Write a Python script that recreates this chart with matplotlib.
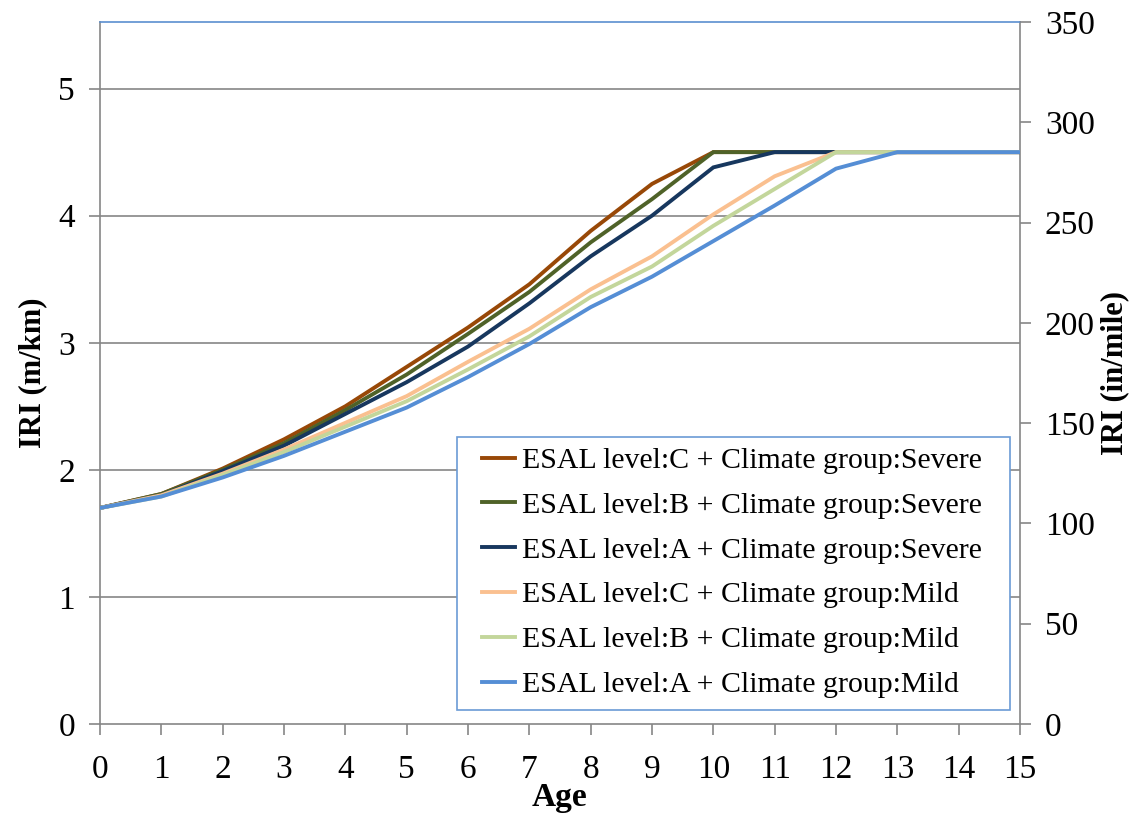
import matplotlib
matplotlib.use("Agg")
import matplotlib.pyplot as plt
from matplotlib.patches import Rectangle
import numpy as np

plt.rcParams['font.family'] = ['Liberation Serif', 'DejaVu Serif']

ages = list(range(0, 16))
c_severe = [1.70, 1.81, 2.01, 2.24, 2.50, 2.81, 3.12, 3.46, 3.88, 4.25, 4.50, 4.50, 4.50, 4.50, 4.50, 4.50]
b_severe = [1.70, 1.81, 2.00, 2.21, 2.47, 2.75, 3.07, 3.40, 3.79, 4.13, 4.50, 4.50, 4.50, 4.50, 4.50, 4.50]
a_severe = [1.70, 1.80, 1.99, 2.19, 2.44, 2.69, 2.97, 3.31, 3.68, 4.00, 4.38, 4.50, 4.50, 4.50, 4.50, 4.50]
c_mild = [1.70, 1.80, 1.97, 2.16, 2.37, 2.58, 2.85, 3.11, 3.42, 3.68, 4.01, 4.31, 4.50, 4.50, 4.50, 4.50]
b_mild = [1.70, 1.79, 1.96, 2.14, 2.34, 2.54, 2.79, 3.05, 3.36, 3.60, 3.92, 4.21, 4.50, 4.50, 4.50, 4.50]
a_mild = [1.70, 1.79, 1.94, 2.11, 2.30, 2.49, 2.73, 2.99, 3.28, 3.52, 3.80, 4.08, 4.37, 4.50, 4.50, 4.50]

labels = ["ESAL level:C + Climate group:Severe",
          "ESAL level:B + Climate group:Severe",
          "ESAL level:A + Climate group:Severe",
          "ESAL level:C + Climate group:Mild",
          "ESAL level:B + Climate group:Mild",
          "ESAL level:A + Climate group:Mild"]
colors = ["#984807", "#4F6228", "#17375E", "#FAC090", "#C3D69B", "#558ED5"]
series = [c_severe, b_severe, a_severe, c_mild, b_mild, a_mild]

right_ticks = [0, 50, 100, 150, 200, 250, 300, 350]
left_ticks = [0, 1, 2, 3, 4, 5]
conv = 63.36

fig = plt.figure(figsize=(11.38, 8.15), dpi=100)
ax = fig.add_axes([100/1138, 1-724/815, 920/1138, 702/815])

gray = "#868686"
for t in left_ticks[1:]:
    ax.axhline(t, color=gray, lw=1.2, zorder=1)

for s, c, l in zip(series, colors, labels):
    ax.plot(ages, s, color=c, lw=2.8, label=l, zorder=3, solid_joinstyle='miter')

ax.set_xlim(0, 15)
ax.set_ylim(0, 350/conv)
ax.set_xticks(ages)
ax.set_yticks(left_ticks)
ax.tick_params(axis='both', labelsize=24, color=gray, length=8, width=1.2, direction='out')
ax.tick_params(axis='x', pad=14)
ax.tick_params(axis='y', pad=10)
for sp in ['left', 'bottom', 'right']:
    ax.spines[sp].set_color(gray)
    ax.spines[sp].set_linewidth(1.2)
ax.spines['top'].set_color("#5B8FD0")
ax.spines['top'].set_linewidth(1.2)

ax.set_xlabel("Age", fontsize=24, fontweight='bold', labelpad=-2)
ax.set_ylabel("IRI (m/km)", fontsize=22, fontweight='bold', labelpad=8)

ax2 = ax.twinx()
ax2.set_ylim(0, 350)
ax2.set_yticks(right_ticks)
ax2.tick_params(axis='y', labelsize=24, color=gray, length=8, width=1.2, pad=10)
for sp in ax2.spines.values():
    sp.set_visible(False)
ax2.set_ylabel("IRI (in/mile)", fontsize=22, fontweight='bold', labelpad=4)

# legend frame
x0, x1, y0, y1 = 457, 1010, 437, 710
fx = lambda px: (px - 100) / 920
fy = lambda py: (724 - py) / 702
frame = Rectangle((fx(x0), fy(y1)), fx(x1) - fx(x0), fy(y0) - fy(y1), transform=ax.transAxes,
                  facecolor='white', edgecolor="#6B9BD6", lw=1.2, zorder=4)
ax.add_patch(frame)
leg = ax.legend(loc='lower left', bbox_to_anchor=(fx(470), fy(710), fx(1000) - fx(470), fy(437) - fy(710)),
                mode='expand', fontsize=21.5, frameon=False, handlelength=1.1,
                handletextpad=0.25, borderpad=0.4, labelspacing=0.6, borderaxespad=0)
leg.set_zorder(5)

fig.savefig("out.png", dpi=100)
